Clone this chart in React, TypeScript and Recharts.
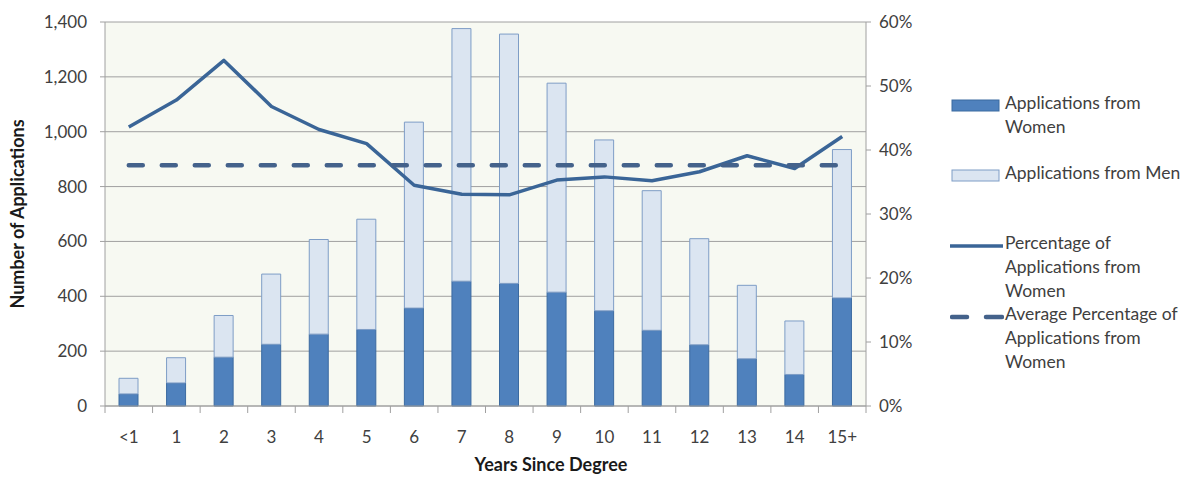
import React from 'react';
import { ComposedChart, Bar, Line, XAxis, YAxis, CartesianGrid, Legend } from 'recharts';

// Years since degree (category axis)
const YEARS = ['<1', '1', '2', '3', '4', '5', '6', '7', '8', '9', '10', '11', '12', '13', '14', '15+'];
// Number of applications by group
const WOMEN = [44, 84, 178, 225, 262, 279, 357, 455, 447, 415, 347, 276, 223, 172, 115, 394];
const MEN = [57, 92, 152, 256, 345, 402, 678, 921, 909, 762, 623, 509, 387, 268, 195, 541];
// Share of applications from women, in percent
const PCT_WOMEN = [43.6, 47.8, 54.0, 46.8, 43.2, 41.0, 34.5, 33.1, 33.0, 35.3, 35.8, 35.2, 36.6, 39.1, 37.1, 42.1];
const AVG_PCT_WOMEN = 37.6;

const LEFT_TICKS = [0, 200, 400, 600, 800, 1000, 1200, 1400];
const RIGHT_TICKS = [0, 10, 20, 30, 40, 50, 60];

const data = YEARS.map((year, i) => ({
  year,
  women: WOMEN[i],
  men: MEN[i],
  pct: PCT_WOMEN[i],
  avg: AVG_PCT_WOMEN,
}));

const FONT = 'Lato, "Open Sans", sans-serif';
const TEXT = '#404040';
const AXIS = '#a0a0a0';
const WOMEN_FILL = '#4f81bd';
const WOMEN_STROKE = '#3b6aa0';
const MEN_FILL = '#dbe5f1';
const MEN_STROKE = '#7e9dc6';
const LINE_COLOR = '#3a6597';
const DASH_COLOR = '#44628b';

const CHART_W = 1186;
const CHART_H = 478;
const PLOT_W = 761;
const TICK_FS = 17;
const LEGEND_FS = 17.5;
const TITLE_FS = 18;

const CategoryTick = (props: any) => {
  const { x, y, payload, index } = props;
  const half = payload && typeof payload.offset === 'number' && payload.offset > 0 ? payload.offset : PLOT_W / YEARS.length / 2;
  return (
    <g>
      <line x1={x - half} x2={x - half} y1={y} y2={y + 7} stroke={AXIS} strokeWidth={1} />
      {index === YEARS.length - 1 && (
        <line x1={x + half} x2={x + half} y1={y} y2={y + 7} stroke={AXIS} strokeWidth={1} />
      )}
      <text x={x} y={y + 37} textAnchor="middle" fill={TEXT} fontSize={TICK_FS} fontFamily={FONT}>
        {payload.value}
      </text>
    </g>
  );
};

const Swatch = ({ kind }: { kind: string }) => {
  if (kind === 'women')
    return (
      <svg width={50} height={14}>
        <rect x={1} y={1} width={47} height={11} fill={WOMEN_FILL} stroke={WOMEN_STROKE} />
      </svg>
    );
  if (kind === 'men')
    return (
      <svg width={50} height={14}>
        <rect x={1} y={1} width={47} height={11} fill={MEN_FILL} stroke={MEN_STROKE} />
      </svg>
    );
  if (kind === 'pct')
    return (
      <svg width={54} height={14}>
        <line x1={0} x2={53} y1={7} y2={7} stroke={LINE_COLOR} strokeWidth={3.5} />
      </svg>
    );
  return (
    <svg width={54} height={14}>
      <line x1={2} x2={17} y1={7} y2={7} stroke={DASH_COLOR} strokeWidth={4.5} strokeLinecap="round" />
      <line x1={36} x2={52} y1={7} y2={7} stroke={DASH_COLOR} strokeWidth={4.5} strokeLinecap="round" />
    </svg>
  );
};

const LEGEND_ITEMS = [
  { kind: 'women', lines: ['Applications from', 'Women'], top: 0 },
  { kind: 'men', lines: ['Applications from Men'], top: 70 },
  { kind: 'pct', lines: ['Percentage of', 'Applications from', 'Women'], top: 140 },
  { kind: 'dash', lines: ['Average Percentage of', 'Applications from', 'Women'], top: 211 },
];

const LegendContent = () => (
  <div style={{ position: 'relative', width: 236, height: 290, fontFamily: FONT, fontSize: LEGEND_FS, color: TEXT }}>
    {LEGEND_ITEMS.map((item) => (
      <div key={item.kind} style={{ position: 'absolute', left: 0, top: item.top }}>
        <div style={{ position: 'absolute', left: item.kind === 'pct' || item.kind === 'dash' ? 0 : 1, top: 5 }}>
          <Swatch kind={item.kind} />
        </div>
        <div style={{ position: 'absolute', left: 55, top: -0.5, lineHeight: '24px', whiteSpace: 'nowrap' }}>
          {item.lines.map((l) => (
            <div key={l}>{l}</div>
          ))}
        </div>
      </div>
    ))}
  </div>
);

export default function App() {
  return (
    <div style={{ position: 'absolute', left: 0, top: 0, width: CHART_W, height: CHART_H, background: '#ffffff', overflow: 'hidden' }}>
      <ComposedChart
        width={CHART_W}
        height={CHART_H}
        data={data}
        margin={{ top: 22, right: 260, bottom: 42, left: 0 }}
        barSize={19}
      >
        <CartesianGrid yAxisId="left" vertical={false} stroke={AXIS} fill="#f7f9f2" />
        <XAxis
          dataKey="year"
          stroke={AXIS}
          tickLine={false}
          tickSize={0}
          tickMargin={0}
          height={30}
          interval={0}
          tick={<CategoryTick />}
          label={{
            content: () => (
              <text x={551} y={471} textAnchor="middle" fontSize={TITLE_FS} fontWeight={700} fill="#1a1a1a" fontFamily={FONT}>
                Years Since Degree
              </text>
            ),
          }}
        />
        <YAxis
          yAxisId="left"
          width={105}
          domain={[0, 1400]}
          ticks={LEFT_TICKS}
          interval={0}
          stroke={AXIS}
          tickSize={5}
          tickMargin={13}
          tick={{ fill: TEXT, fontSize: TICK_FS, fontFamily: FONT }}
          tickFormatter={(v: number) => v.toLocaleString('en-US')}
          label={{
            content: (p: any) => {
              const vb = p.viewBox || {};
              const cy = (vb.y ?? 22) + (vb.height ?? 384) / 2;
              return (
                <text
                  x={17}
                  y={cy}
                  transform={`rotate(-90, 17, ${cy})`}
                  textAnchor="middle"
                  dominantBaseline="central"
                  fontSize={TITLE_FS}
                  fontWeight={700}
                  fill="#1a1a1a"
                  fontFamily={FONT}
                >
                  Number of Applications
                </text>
              );
            },
          }}
        />
        <YAxis
          yAxisId="right"
          orientation="right"
          width={60}
          domain={[0, 60]}
          ticks={RIGHT_TICKS}
          interval={0}
          stroke={AXIS}
          tickSize={5}
          tickMargin={8}
          tick={{ fill: TEXT, fontSize: TICK_FS, fontFamily: FONT, textAnchor: 'start' }}
          tickFormatter={(v: number) => `${v}%`}
        />
        <Legend
          layout="vertical"
          align="center"
          verticalAlign="middle"
          content={<LegendContent />}
          wrapperStyle={{ left: 950, top: 91, width: 236, height: 290 }}
        />
        <Bar yAxisId="left" dataKey="women" stackId="apps" name="Applications from Women" fill={WOMEN_FILL} stroke={WOMEN_STROKE} strokeWidth={1} isAnimationActive={false} />
        <Bar yAxisId="left" dataKey="men" stackId="apps" name="Applications from Men" fill={MEN_FILL} stroke={MEN_STROKE} strokeWidth={1} isAnimationActive={false} />
        <Line yAxisId="right" dataKey="pct" name="Percentage of Applications from Women" type="linear" stroke={LINE_COLOR} strokeWidth={3.5} dot={false} activeDot={false} strokeLinejoin="round" isAnimationActive={false} />
        <Line yAxisId="right" dataKey="avg" name="Average Percentage of Applications from Women" type="linear" stroke={DASH_COLOR} strokeWidth={4.5} strokeDasharray="14 19" strokeLinecap="round" dot={false} activeDot={false} isAnimationActive={false} />
      </ComposedChart>
    </div>
  );
}
